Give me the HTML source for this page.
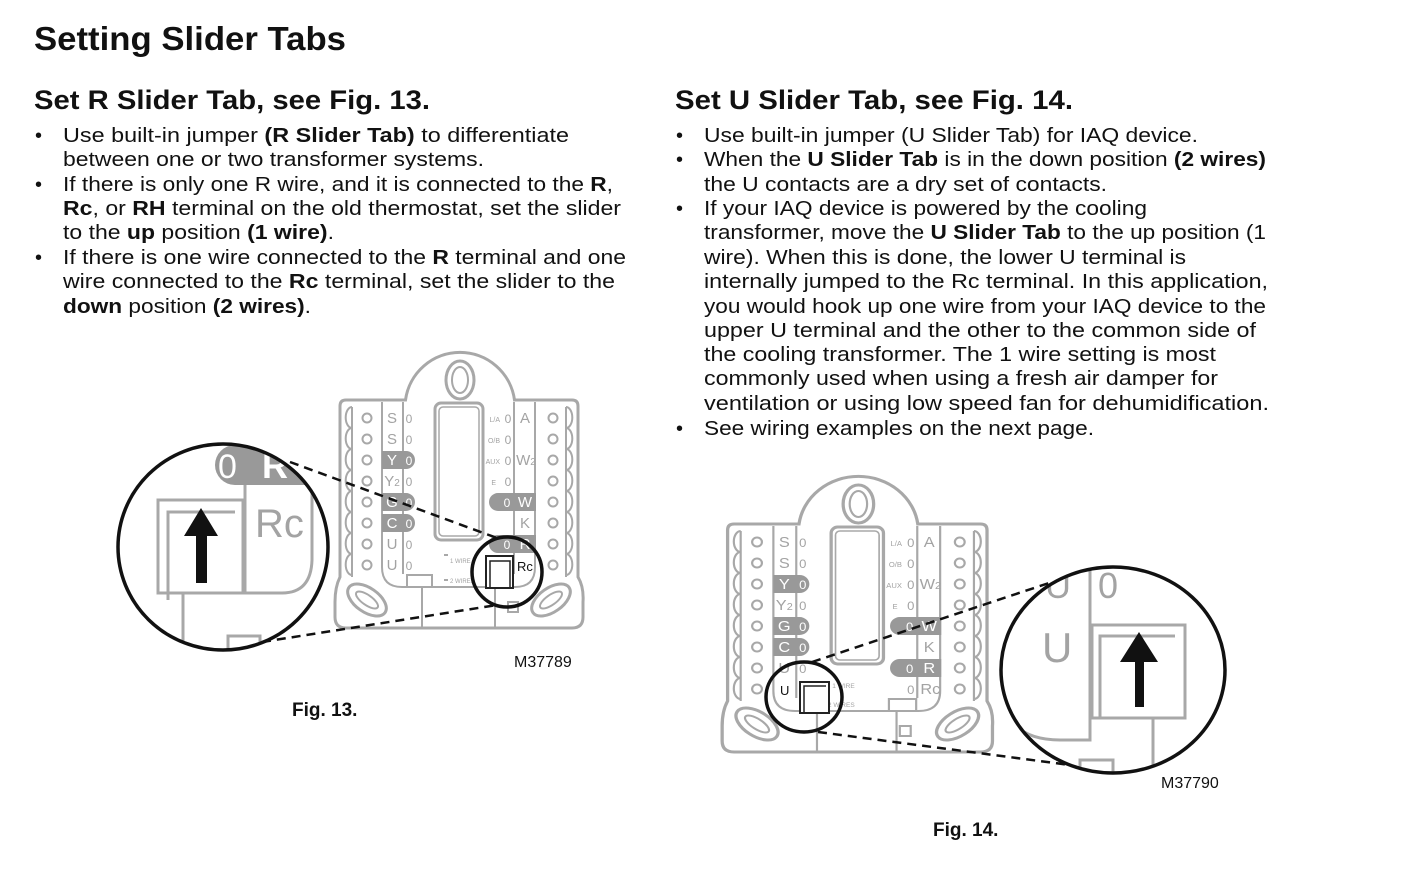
<!DOCTYPE html>
<html><head><meta charset="utf-8"><style>
html,body{margin:0;padding:0;background:#fff;width:1417px;height:891px;overflow:hidden}
svg{display:block}
.t{font-family:"Liberation Sans",sans-serif;fill:#111}
.b{font-weight:bold}
.body{font-size:20px}
.g{fill:#a3a3a3;font-family:"Liberation Sans",sans-serif}
</style></head><body>
<svg width="1417" height="891" viewBox="0 0 1417 891">
<defs>
<clipPath id="c13"><ellipse cx="223" cy="547" rx="105" ry="103"/></clipPath>
<clipPath id="c14"><ellipse cx="1113" cy="670" rx="112" ry="103"/></clipPath>
</defs>
<text class="t b" x="34" y="50" font-size="33" textLength="312" lengthAdjust="spacingAndGlyphs">Setting Slider Tabs</text>
<text class="t b" x="34" y="109" font-size="27" textLength="396" lengthAdjust="spacingAndGlyphs">Set R Slider Tab, see Fig. 13.</text>
<text class="t b" x="675" y="109" font-size="27" textLength="398" lengthAdjust="spacingAndGlyphs">Set U Slider Tab, see Fig. 14.</text>
<g class="t body">
<text x="35" y="142">•</text><text x="35" y="191">•</text><text x="35" y="264">•</text>
<text x="63" y="142" textLength="506" lengthAdjust="spacingAndGlyphs">Use built-in jumper <tspan class="b">(R Slider Tab)</tspan> to differentiate</text>
<text x="63" y="166" textLength="421" lengthAdjust="spacingAndGlyphs">between one or two transformer systems.</text>
<text x="63" y="191" textLength="550" lengthAdjust="spacingAndGlyphs">If there is only one R wire, and it is connected to the <tspan class="b">R</tspan>,</text>
<text x="63" y="215" textLength="558" lengthAdjust="spacingAndGlyphs"><tspan class="b">Rc</tspan>, or <tspan class="b">RH</tspan> terminal on the old thermostat, set the slider</text>
<text x="63" y="239" textLength="271" lengthAdjust="spacingAndGlyphs">to the <tspan class="b">up</tspan> position <tspan class="b">(1 wire)</tspan>.</text>
<text x="63" y="264" textLength="563" lengthAdjust="spacingAndGlyphs">If there is one wire connected to the <tspan class="b">R</tspan> terminal and one</text>
<text x="63" y="288" textLength="552" lengthAdjust="spacingAndGlyphs">wire connected to the <tspan class="b">Rc</tspan> terminal, set the slider to the</text>
<text x="63" y="313" textLength="248" lengthAdjust="spacingAndGlyphs"><tspan class="b">down</tspan> position <tspan class="b">(2 wires)</tspan>.</text>

<text x="676" y="142">•</text><text x="676" y="166">•</text><text x="676" y="215">•</text><text x="676" y="435">•</text>
<text x="704" y="142" textLength="494" lengthAdjust="spacingAndGlyphs">Use built-in jumper (U Slider Tab) for IAQ device.</text>
<text x="704" y="166" textLength="562" lengthAdjust="spacingAndGlyphs">When the <tspan class="b">U Slider Tab</tspan> is in the down position <tspan class="b">(2 wires)</tspan></text>
<text x="704" y="191" textLength="403" lengthAdjust="spacingAndGlyphs">the U contacts are a dry set of contacts.</text>
<text x="704" y="215" textLength="443" lengthAdjust="spacingAndGlyphs">If your IAQ device is powered by the cooling</text>
<text x="704" y="239" textLength="562" lengthAdjust="spacingAndGlyphs">transformer, move the <tspan class="b">U Slider Tab</tspan> to the up position (1</text>
<text x="704" y="264" textLength="482" lengthAdjust="spacingAndGlyphs">wire). When this is done, the lower U terminal is</text>
<text x="704" y="288" textLength="564" lengthAdjust="spacingAndGlyphs">internally jumped to the Rc terminal. In this application,</text>
<text x="704" y="313" textLength="562" lengthAdjust="spacingAndGlyphs">you would hook up one wire from your IAQ device to the</text>
<text x="704" y="337" textLength="552" lengthAdjust="spacingAndGlyphs">upper U terminal and the other to the common side of</text>
<text x="704" y="361" textLength="512" lengthAdjust="spacingAndGlyphs">the cooling transformer. The 1 wire setting is most</text>
<text x="704" y="385" textLength="514" lengthAdjust="spacingAndGlyphs">commonly used when using a fresh air damper for</text>
<text x="704" y="410" textLength="565" lengthAdjust="spacingAndGlyphs">ventilation or using low speed fan for dehumidification.</text>
<text x="704" y="435" textLength="390" lengthAdjust="spacingAndGlyphs">See wiring examples on the next page.</text>
</g>
<text class="t b" x="292" y="716" font-size="19">Fig. 13.</text>
<text class="t b" x="933" y="836" font-size="19">Fig. 14.</text>
<text class="t" x="514" y="667" font-size="16">M37789</text>
<text class="t" x="1161" y="788" font-size="16">M37790</text>

<!-- PLATE FIG 13 -->
<g transform="translate(340,352)" fill="none" stroke="#a8a8a8" stroke-width="3">
<path d="M6,48 H65.5 A55,55 0 0 1 174.5,48 H232 Q238,48 238,54 V225 Q244,235 243,250 V265 Q243,276 232,276 H6 Q-5,276 -5,265 V250 Q-5,235 0,225 V54 Q0,48 6,48 Z"/>
<ellipse cx="120" cy="28" rx="14" ry="19"/><ellipse cx="120" cy="28" rx="8" ry="13" stroke-width="2"/>
<path d="M12,55 a6,10 0 0 0 0,21 a6,10 0 0 0 0,21 a6,10 0 0 0 0,21 a6,10 0 0 0 0,21 a6,10 0 0 0 0,21 a6,10 0 0 0 0,21 a6,10 0 0 0 0,21 a6,10 0 0 0 0,21 M12,55 V225" stroke-width="2"/>
<path d="M226,55 a6,10 0 0 1 0,21 a6,10 0 0 1 0,21 a6,10 0 0 1 0,21 a6,10 0 0 1 0,21 a6,10 0 0 1 0,21 a6,10 0 0 1 0,21 a6,10 0 0 1 0,21 a6,10 0 0 1 0,21 M226,55 V225" stroke-width="2"/>
<path d="M42,50 V215 Q42,235 62,235 H175 Q195,235 195,215 V50 M63,50 V222 M174,50 V222" stroke-width="2"/>
<rect x="95" y="51" width="48" height="137" rx="6"/><rect x="99" y="55" width="40" height="129" rx="4" stroke-width="1.5"/>
<g stroke-width="2"><circle cx="27" cy="66" r="4.5"/><circle cx="27" cy="87" r="4.5"/><circle cx="27" cy="108" r="4.5"/><circle cx="27" cy="129" r="4.5"/><circle cx="27" cy="150" r="4.5"/><circle cx="27" cy="171" r="4.5"/><circle cx="27" cy="192" r="4.5"/><circle cx="27" cy="213" r="4.5"/>
<circle cx="213" cy="66" r="4.5"/><circle cx="213" cy="87" r="4.5"/><circle cx="213" cy="108" r="4.5"/><circle cx="213" cy="129" r="4.5"/><circle cx="213" cy="150" r="4.5"/><circle cx="213" cy="171" r="4.5"/><circle cx="213" cy="192" r="4.5"/><circle cx="213" cy="213" r="4.5"/></g>
<ellipse cx="27" cy="248" rx="22" ry="12" transform="rotate(35 27 248)"/><ellipse cx="27" cy="248" rx="13" ry="5" transform="rotate(35 27 248)" stroke-width="2"/>
<ellipse cx="211" cy="248" rx="22" ry="12" transform="rotate(-35 211 248)"/><ellipse cx="211" cy="248" rx="13" ry="5" transform="rotate(-35 211 248)" stroke-width="2"/>
<rect x="67" y="223" width="25" height="12" stroke-width="2"/><path d="M82,235 V276 M155,236 V276 M104,203 H108 M104,228 H108" stroke-width="2"/>
<rect x="168" y="250" width="10" height="10" stroke-width="2"/>
</g>
<g transform="translate(340,352)">
<path d="M42,99 H66 a9,9 0 0 1 0,18 H42 Z M42,141 H66 a9,9 0 0 1 0,18 H42 Z M42,162 H66 a9,9 0 0 1 0,18 H42 Z M158,141 H196 V159 H158 a9,9 0 0 1 0,-18 Z M158,183 H196 V201 H158 a9,9 0 0 1 0,-18 Z" fill="#999"/>
<g class="g" font-size="15" text-anchor="middle"><text x="52" y="71">S</text><text x="52" y="92">S</text><text x="52" y="113" fill="#fff">Y</text><text x="52" y="134">Y<tspan font-size="10">2</tspan></text><text x="52" y="155" fill="#fff">G</text><text x="52" y="176" fill="#fff">C</text><text x="52" y="197">U</text><text x="52" y="218">U</text>
<text x="185" y="71">A</text><text x="186" y="113">W<tspan font-size="10">2</tspan></text><text x="185" y="155" fill="#fff">W</text><text x="185" y="176">K</text><text x="185" y="197" fill="#fff">R</text></g>
<g class="g" font-size="12" text-anchor="middle"><text x="69" y="71">0</text><text x="69" y="92">0</text><text x="69" y="113" fill="#fff">0</text><text x="69" y="134">0</text><text x="69" y="155" fill="#fff">0</text><text x="69" y="176" fill="#fff">0</text><text x="69" y="197">0</text><text x="69" y="218">0</text>
<text x="168" y="71">0</text><text x="168" y="92">0</text><text x="168" y="113">0</text><text x="168" y="134">0</text><text x="167" y="155" fill="#fff">0</text><text x="167" y="197" fill="#fff">0</text></g>
<g class="g" font-size="7" text-anchor="end"><text x="160" y="70">L/A</text><text x="160" y="91">O/B</text><text x="160" y="112">AUX</text><text x="156" y="133">E</text></g>
<g class="g" font-size="6"><text x="110" y="211">1 WIRE</text><text x="110" y="231">2 WIRES</text></g>
</g>
<rect x="486" y="556" width="27" height="32" fill="#fff" stroke="#222" stroke-width="2"/><path d="M490,588 V561 H510 V588" fill="none" stroke="#222" stroke-width="1.5"/>
<text class="t" x="517" y="571" font-size="13">Rc</text>
<circle cx="507" cy="572" r="35" fill="none" stroke="#111" stroke-width="3.5"/>
<!-- fig13 magnifier -->
<ellipse cx="223" cy="547" rx="105" ry="103" fill="#fff"/>
<g clip-path="url(#c13)">
<path d="M235,445 H330 V485 H235 a20,20 0 0 1 0,-40 Z" fill="#999"/>
<text x="218" y="478" font-size="34" style="fill:#fff" class="g">0</text>
<text x="262" y="478" font-size="36" style="fill:#fff" class="g b">R</text>
<path d="M158,593 V500 H243 V593 Z M168,600 V512 H235 M245,485 V593 H282 Q311,593 312,560 V485 M183,593 V660 M228,660 V636 H260 V660" fill="none" stroke="#a8a8a8" stroke-width="3"/>
<text class="g" x="255" y="537" font-size="40">Rc</text>
<path d="M196,583 V536 H184 L201,508 L218,536 H207 V583 Z" fill="#111"/>
</g>
<ellipse cx="223" cy="547" rx="105" ry="103" fill="none" stroke="#111" stroke-width="3.5"/>
<path d="M290,462 L497,538 M262,642 L497,605" stroke="#111" stroke-width="2.5" stroke-dasharray="9,6"/>

<!-- PLATE FIG 14 -->
<g transform="translate(727.6,476) scale(1.09,1)" fill="none" stroke="#a8a8a8" stroke-width="3">
<path d="M6,48 H65.5 A55,55 0 0 1 174.5,48 H232 Q238,48 238,54 V225 Q244,235 243,250 V265 Q243,276 232,276 H6 Q-5,276 -5,265 V250 Q-5,235 0,225 V54 Q0,48 6,48 Z"/>
<ellipse cx="120" cy="28" rx="14" ry="19"/><ellipse cx="120" cy="28" rx="8" ry="13" stroke-width="2"/>
<path d="M12,55 a6,10 0 0 0 0,21 a6,10 0 0 0 0,21 a6,10 0 0 0 0,21 a6,10 0 0 0 0,21 a6,10 0 0 0 0,21 a6,10 0 0 0 0,21 a6,10 0 0 0 0,21 a6,10 0 0 0 0,21 M12,55 V225" stroke-width="2"/>
<path d="M226,55 a6,10 0 0 1 0,21 a6,10 0 0 1 0,21 a6,10 0 0 1 0,21 a6,10 0 0 1 0,21 a6,10 0 0 1 0,21 a6,10 0 0 1 0,21 a6,10 0 0 1 0,21 a6,10 0 0 1 0,21 M226,55 V225" stroke-width="2"/>
<path d="M42,50 V215 Q42,235 62,235 H175 Q195,235 195,215 V50 M63,50 V222 M174,50 V222" stroke-width="2"/>
<rect x="95" y="51" width="48" height="137" rx="6"/><rect x="99" y="55" width="40" height="129" rx="4" stroke-width="1.5"/>
<g stroke-width="2"><circle cx="27" cy="66" r="4.5"/><circle cx="27" cy="87" r="4.5"/><circle cx="27" cy="108" r="4.5"/><circle cx="27" cy="129" r="4.5"/><circle cx="27" cy="150" r="4.5"/><circle cx="27" cy="171" r="4.5"/><circle cx="27" cy="192" r="4.5"/><circle cx="27" cy="213" r="4.5"/>
<circle cx="213" cy="66" r="4.5"/><circle cx="213" cy="87" r="4.5"/><circle cx="213" cy="108" r="4.5"/><circle cx="213" cy="129" r="4.5"/><circle cx="213" cy="150" r="4.5"/><circle cx="213" cy="171" r="4.5"/><circle cx="213" cy="192" r="4.5"/><circle cx="213" cy="213" r="4.5"/></g>
<ellipse cx="27" cy="248" rx="22" ry="12" transform="rotate(35 27 248)"/><ellipse cx="27" cy="248" rx="13" ry="5" transform="rotate(35 27 248)" stroke-width="2"/>
<ellipse cx="211" cy="248" rx="22" ry="12" transform="rotate(-35 211 248)"/><ellipse cx="211" cy="248" rx="13" ry="5" transform="rotate(-35 211 248)" stroke-width="2"/>
<rect x="148" y="223" width="25" height="12" stroke-width="2"/><path d="M155,235 V276 M82,236 V276 M88,210 H92 M88,229 H92" stroke-width="2"/>
<rect x="158" y="250" width="10" height="10" stroke-width="2"/>
</g>
<g transform="translate(727.6,476) scale(1.09,1)">
<path d="M42,99 H66 a9,9 0 0 1 0,18 H42 Z M42,141 H66 a9,9 0 0 1 0,18 H42 Z M42,162 H66 a9,9 0 0 1 0,18 H42 Z M158,141 H196 V159 H158 a9,9 0 0 1 0,-18 Z M158,183 H196 V201 H158 a9,9 0 0 1 0,-18 Z" fill="#999"/>
<g class="g" font-size="15" text-anchor="middle"><text x="52" y="71">S</text><text x="52" y="92">S</text><text x="52" y="113" fill="#fff">Y</text><text x="52" y="134">Y<tspan font-size="10">2</tspan></text><text x="52" y="155" fill="#fff">G</text><text x="52" y="176" fill="#fff">C</text><text x="52" y="197">U</text>
<text x="185" y="71">A</text><text x="186" y="113">W<tspan font-size="10">2</tspan></text><text x="185" y="155" fill="#fff">W</text><text x="185" y="176">K</text><text x="185" y="197" fill="#fff">R</text><text x="186" y="218">Rc</text></g>
<g class="g" font-size="12" text-anchor="middle"><text x="69" y="71">0</text><text x="69" y="92">0</text><text x="69" y="113" fill="#fff">0</text><text x="69" y="134">0</text><text x="69" y="155" fill="#fff">0</text><text x="69" y="176" fill="#fff">0</text><text x="69" y="197">0</text>
<text x="168" y="71">0</text><text x="168" y="92">0</text><text x="168" y="113">0</text><text x="168" y="134">0</text><text x="167" y="155" fill="#fff">0</text><text x="167" y="197" fill="#fff">0</text><text x="168" y="218">0</text></g>
<g class="g" font-size="7" text-anchor="end"><text x="160" y="70">L/A</text><text x="160" y="91">O/B</text><text x="160" y="112">AUX</text><text x="156" y="133">E</text></g>
<g class="g" font-size="6"><text x="96" y="212">1 WIRE</text><text x="92" y="231">2 WIRES</text></g>
</g>
<rect x="800" y="682" width="29" height="31" fill="#fff" stroke="#222" stroke-width="2"/><path d="M804,713 V686 H826" fill="none" stroke="#222" stroke-width="1.5"/>
<text class="t" x="780" y="695" font-size="13">U</text>
<ellipse cx="804" cy="697" rx="38" ry="35" fill="none" stroke="#111" stroke-width="3.5"/>
<!-- fig14 magnifier -->
<ellipse cx="1113" cy="670" rx="112" ry="103" fill="#fff"/>
<g clip-path="url(#c14)">
<path d="M1092,625 V718 H1185 V625 Z M1100,718 V636 H1175 M1090,560 V740 H1060 Q1005,740 1000,690 M1153,718 V780 M1080,780 V760 H1113 V780" fill="none" stroke="#a8a8a8" stroke-width="3"/>
<text class="g" x="1042" y="662" font-size="42">U</text>
<text class="g" x="1098" y="598" font-size="36">0</text>
<text class="g" x="1045" y="598" font-size="36">U</text>
<path d="M1135,707 V662 H1120 L1139,632 L1158,662 H1144 V707 Z" fill="#111"/>
</g>
<ellipse cx="1113" cy="670" rx="112" ry="103" fill="none" stroke="#111" stroke-width="3.5"/>
<path d="M812,662 L1052,582 M818,732 L1070,765" stroke="#111" stroke-width="2.5" stroke-dasharray="9,6"/>
</svg>
</body></html>
